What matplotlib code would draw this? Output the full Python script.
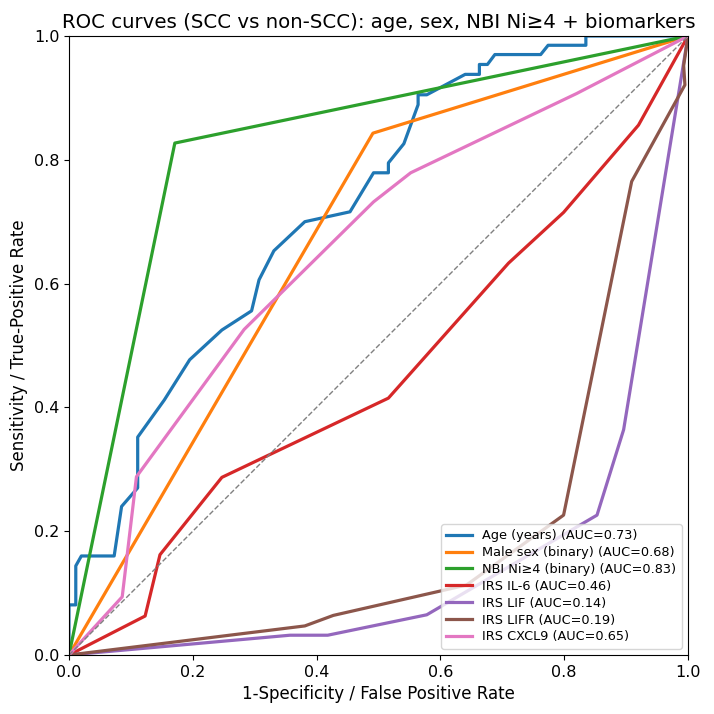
import matplotlib
matplotlib.use("Agg")
import matplotlib.pyplot as plt

# ROC points (FPR, TPR)
age_fpr = [0.0, 0.0, 0.011, 0.011, 0.02, 0.073, 0.085, 0.111, 0.111, 0.154, 0.195, 0.247,
           0.295, 0.307, 0.331, 0.381, 0.454, 0.492, 0.516, 0.516, 0.541, 0.564, 0.564,
           0.578, 0.640, 0.663, 0.663, 0.676, 0.688, 0.762, 0.774, 0.835, 0.835, 1.0]
age_tpr = [0.0, 0.081, 0.081, 0.144, 0.16, 0.16, 0.24, 0.27, 0.352, 0.412, 0.477, 0.525,
           0.556, 0.606, 0.653, 0.70, 0.716, 0.779, 0.779, 0.795, 0.826, 0.889, 0.905,
           0.905, 0.938, 0.938, 0.954, 0.954, 0.970, 0.970, 0.985, 0.985, 1.0, 1.0]

sex_fpr = [0.0, 0.491, 1.0]
sex_tpr = [0.0, 0.843, 1.0]

nbi_fpr = [0.0, 0.171, 1.0]
nbi_tpr = [0.0, 0.827, 1.0]

il6_fpr = [0.0, 0.123, 0.147, 0.247, 0.516, 0.710, 0.799, 0.920, 1.0]
il6_tpr = [0.0, 0.063, 0.162, 0.287, 0.415, 0.633, 0.715, 0.856, 1.0]

lif_fpr = [0.0, 0.357, 0.418, 0.578, 0.853, 0.896, 1.0]
lif_tpr = [0.0, 0.032, 0.032, 0.065, 0.226, 0.364, 1.0]

lifr_fpr = [0.0, 0.381, 0.427, 0.642, 0.799, 0.909, 0.995, 0.993, 1.0]
lifr_tpr = [0.0, 0.047, 0.064, 0.113, 0.226, 0.765, 0.921, 0.952, 1.0]

cxcl9_fpr = [0.0, 0.086, 0.109, 0.283, 0.492, 0.552, 0.820, 1.0]
cxcl9_tpr = [0.0, 0.094, 0.288, 0.526, 0.732, 0.779, 0.907, 1.0]

labels = ["Age (years) (AUC=0.73)", "Male sex (binary) (AUC=0.68)",
          "NBI Ni\u22654 (binary) (AUC=0.83)", "IRS IL-6 (AUC=0.46)",
          "IRS LIF (AUC=0.14)", "IRS LIFR (AUC=0.19)", "IRS CXCL9 (AUC=0.65)"]

curves = [(age_fpr, age_tpr), (sex_fpr, sex_tpr), (nbi_fpr, nbi_tpr), (il6_fpr, il6_tpr),
          (lif_fpr, lif_tpr), (lifr_fpr, lifr_tpr), (cxcl9_fpr, cxcl9_tpr)]

fig = plt.figure(figsize=(7.14, 7.14), dpi=100)
ax = fig.add_axes([0.0966, 0.0826, 0.867, 0.867])

for (fpr, tpr), lab in zip(curves, labels):
    ax.plot(fpr, tpr, lw=2.3, label=lab)

ax.plot([0, 1], [0, 1], linestyle="--", color="gray", lw=1)

ax.set_xlim(0, 1)
ax.set_ylim(0, 1)
ax.set_xlabel("1-Specificity / False Positive Rate", fontsize=12)
ax.set_ylabel("Sensitivity / True-Positive Rate", fontsize=12)
ax.set_title("ROC curves (SCC vs non-SCC): age, sex, NBI Ni\u22654 + biomarkers", fontsize=14.2)
ax.tick_params(labelsize=11.5)
ax.legend(loc="lower right", fontsize=9.3, labelspacing=0.3)

fig.savefig("out.png", dpi=100)
